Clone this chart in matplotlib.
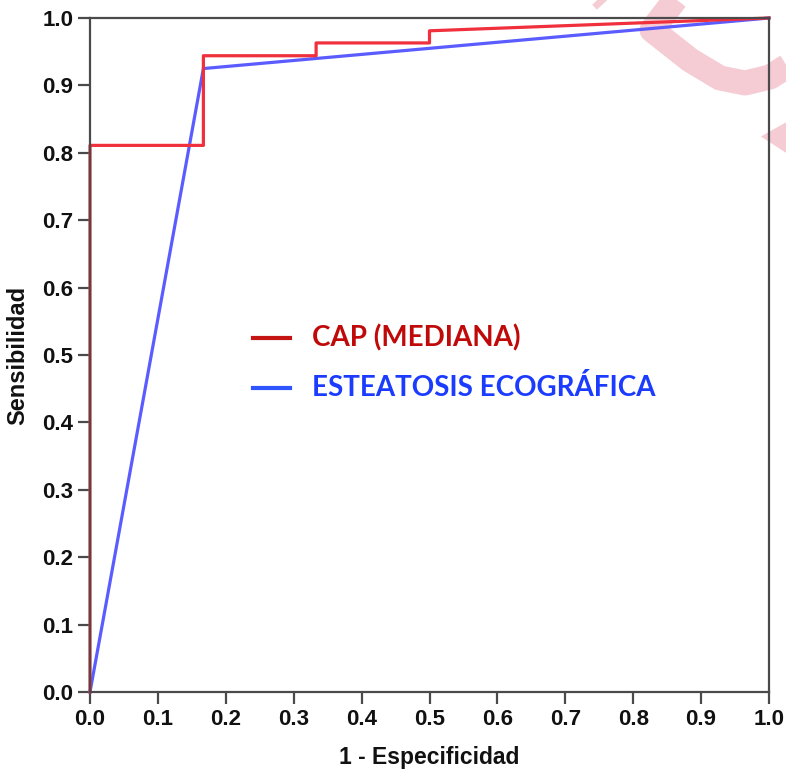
import matplotlib
matplotlib.use("Agg")
import matplotlib.pyplot as plt
from matplotlib.lines import Line2D
from matplotlib.transforms import IdentityTransform

# ROC data
cap_fpr = [0.0, 0.0, 0.167, 0.167, 0.333, 0.333, 0.5, 0.5, 1.0]
cap_tpr = [0.0, 0.811, 0.811, 0.944, 0.944, 0.963, 0.963, 0.981, 1.0]
eco_fpr = [0.0, 0.167, 1.0]
eco_tpr = [0.0, 0.925, 1.0]
ticks = [0.0, 0.1, 0.2, 0.3, 0.4, 0.5, 0.6, 0.7, 0.8, 0.9, 1.0]
tick_labels = [f"{t:.1f}" for t in ticks]
legend_labels = ["CAP (MEDIANA)", "ESTEATOSIS ECOGRÁFICA"]

W, H = 786, 773
fig = plt.figure(figsize=(W / 100, H / 100), dpi=100)
fig.patch.set_facecolor("white")

# decorative pink watermark stroke (figure pixel coords)
def pix(pts):
    return [p[0] for p in pts], [H - p[1] for p in pts]

wm_color = "#f5cbd4"
xs, ys = pix([(681, -8), (652, 30), (690, 60), (720, 78), (745, 83), (770, 77), (800, 58)])
fig.add_artist(Line2D(xs, ys, transform=IdentityTransform(), color=wm_color, lw=18,
                      solid_joinstyle="round", solid_capstyle="butt", zorder=0))
xs, ys = pix([(588, -12), (603, 4)])
fig.add_artist(Line2D(xs, ys, transform=IdentityTransform(), color=wm_color, lw=12,
                      solid_capstyle="butt", zorder=0))
xs, ys = pix([(800, 124), (777, 137), (800, 152)])
fig.add_artist(Line2D(xs, ys, transform=IdentityTransform(), color=wm_color, lw=12,
                      solid_joinstyle="miter", zorder=0))

ax = fig.add_axes([90 / W, (H - 692) / H, (769 - 90) / W, (692 - 18) / H])
ax.set_facecolor("none")

ax.plot(cap_fpr, cap_tpr, color="#f0303c", lw=2.3, clip_on=False, zorder=2)
ax.plot(eco_fpr, eco_tpr, color="#5a5cff", lw=2.3, clip_on=False, zorder=1.9)

ax.set_xlim(0, 1)
ax.set_ylim(0, 1)
ax.set_xticks(ticks)
ax.set_yticks(ticks)
ax.set_xticklabels(tick_labels)
ax.set_yticklabels(tick_labels)

for sp in ax.spines.values():
    sp.set_color("#4a4a4a")
    sp.set_linewidth(1.6)
    sp.set_zorder(2.5)

ax.tick_params(direction="out", length=8.5, width=1.6, color="#4a4a4a", pad=3.5)
for lab in ax.get_xticklabels() + ax.get_yticklabels():
    lab.set_fontfamily("Liberation Sans")
    lab.set_fontweight("bold")
    lab.set_fontsize(16)
    lab.set_color("#111111")

ax.set_xlabel("1 - Especificidad", fontfamily="Liberation Sans", fontweight="bold",
              fontsize=16.5, color="#111111", labelpad=12)
ax.set_ylabel("Sensibilidad", fontfamily="Liberation Sans", fontweight="bold",
              fontsize=17, color="#111111", labelpad=9)

# custom legend
leg_colors = ["#c41414", "#2f55ff"]
txt_colors = ["#c00a0a", "#1b3cff"]
leg_y = [338, 388]
for lab, lc, tc, y in zip(legend_labels, leg_colors, txt_colors, leg_y):
    xs, ys = pix([(253, y), (290, y)])
    fig.add_artist(Line2D(xs, ys, transform=IdentityTransform(), color=lc, lw=3, zorder=5))
    fig.text(312 / W, (H - y) / H, lab, color=tc, fontfamily="Lato", fontweight="bold",
             fontsize=20, ha="left", va="center")

fig.savefig("out.png", dpi=100, facecolor="white")
